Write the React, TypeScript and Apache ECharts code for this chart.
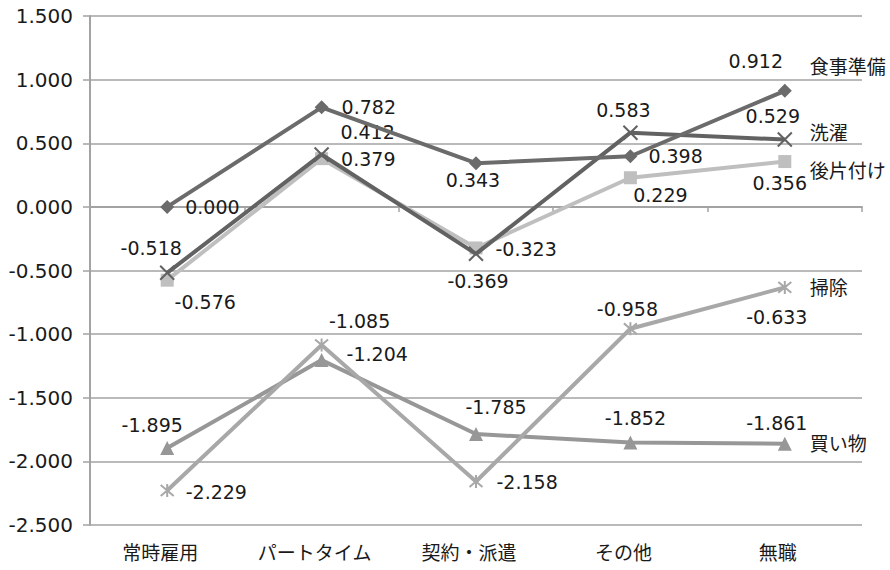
import React, { useEffect, useRef } from "react";
import * as echarts from "echarts";

const categories = ["常時雇用", "パートタイム", "契約・派遣", "その他", "無職"];
const seriesNames = ["食事準備", "洗濯", "後片付け", "掃除", "買い物"];
const mealPrep = [0.0, 0.782, 0.343, 0.398, 0.912];
const laundry = [-0.518, 0.412, -0.369, 0.583, 0.529];
const cleanup = [-0.576, 0.379, -0.323, 0.229, 0.356];
const cleaning = [-2.229, -1.085, -2.158, -0.958, -0.633];
const shopping = [-1.895, -1.204, -1.785, -1.852, -1.861];
const yTicks = { min: -2.5, max: 1.5, interval: 0.5 };

const JP_FONT = "'Noto Sans CJK JP', 'Noto Sans', sans-serif";
const NUM_FONT = "'DejaVu Sans', 'Noto Sans', sans-serif";

type LP = [string, number, number];
// label placement per point: position, dx, dy
const labelPlacement: LP[][] = [
  [["right", 6, 0], ["right", 8, 0], ["bottom", -3, -5], ["right", 6, 0], ["top", -29, -8]],
  [["top", -16, -2], ["top", 46, 0], ["bottom", 2, 5], ["top", -7, 0], ["top", -12, -1]],
  [["bottom", 38, 1], ["right", 8, 0], ["right", 8, 1], ["bottom", 30, -4], ["bottom", -5, 0]],
  [["right", 6, 1], ["top", 38, -2], ["right", 8, 1], ["top", -3, 2], ["bottom", -8, 8]],
  [["top", -15, -2], ["right", 13, -6], ["top", 20, -6], ["top", 5, -3], ["top", -8, 1]],
];
const endOffsets: [number, number][] = [[20, -25], [20, -8], [20, 8], [20, -1], [20, -1]];
const colors = ["#6b6b6b", "#626262", "#bfbfbf", "#a8a8a8", "#979797"];
const symbols = [
  "diamond",
  "path://M0,0L10,10M10,0L0,10",
  "rect",
  "path://M0,0L10,10M10,0L0,10M5,-1L5,11",
  "triangle",
];
const symbolSizes = [14, 14, 13, 13, 14];

export default function App() {
  const ref = useRef<HTMLDivElement>(null);
  useEffect(() => {
    if (!ref.current) return;
    const chart = echarts.init(ref.current, null, { renderer: "svg" });
    const allData = [mealPrep, laundry, cleanup, cleaning, shopping];
    const series = allData.map((vals, si) => {
      const isStroke = symbols[si].startsWith("path://");
      return {
        name: seriesNames[si],
        type: "line",
        data: vals.map((v, i) => {
          const [pos, dx, dy] = labelPlacement[si][i];
          return {
            value: v,
            label: { position: pos, offset: [dx, dy] },
          };
        }),
        symbol: symbols[si],
        symbolSize: symbolSizes[si],
        showAllSymbol: true,
        lineStyle: { color: colors[si], width: 4 },
        itemStyle: isStroke
          ? { color: colors[si], borderColor: colors[si], borderWidth: 2 }
          : { color: colors[si], borderWidth: 0 },
        label: {
          show: true,
          distance: 5,
          color: "#1a1a1a",
          fontSize: 19,
          fontFamily: NUM_FONT,
          formatter: (p: any) => Number(p.value).toFixed(3),
        },
        endLabel: {
          show: true,
          formatter: "{a}",
          color: "#1a1a1a",
          fontSize: 19,
          fontFamily: JP_FONT,
          distance: 5,
          offset: endOffsets[si],
        },
        emphasis: { disabled: true },
        z: 10 - si,
      };
    });
    chart.setOption({
      animation: false,
      backgroundColor: "#ffffff",
      grid: { left: 90, right: 28, top: 16, bottom: 45 },
      xAxis: [
        {
          type: "category",
          data: categories,
          boundaryGap: true,
          axisLine: { onZero: true, lineStyle: { color: "#a3a3a3", width: 2 } },
          axisTick: { show: true, length: 5, lineStyle: { color: "#a3a3a3", width: 1.5 } },
          axisLabel: { show: false },
        },
        {
          type: "category",
          data: categories,
          position: "bottom",
          axisLine: { show: false, onZero: false },
          axisTick: { show: false },
          axisLabel: {
            show: true,
            color: "#1a1a1a",
            fontSize: 19,
            fontFamily: JP_FONT,
            margin: 17,
            padding: [0, 14, 0, 0],
          },
        },
      ],
      yAxis: {
        type: "value",
        min: yTicks.min,
        max: yTicks.max,
        interval: yTicks.interval,
        axisLine: { show: true, lineStyle: { color: "#a3a3a3", width: 2 } },
        axisTick: { show: true, length: 7, lineStyle: { color: "#a3a3a3", width: 1.5 } },
        axisLabel: {
          color: "#1a1a1a",
          fontSize: 20,
          fontFamily: NUM_FONT,
          margin: 17,
          formatter: (v: number) => v.toFixed(3),
        },
        splitLine: { show: true, lineStyle: { color: "#a3a3a3", width: 1.5 } },
      },
      series,
    });
    return () => chart.dispose();
  }, []);
  return (
    <div
      ref={ref}
      style={{ position: "absolute", left: 0, top: 0, width: 890, height: 570 }}
    />
  );
}
